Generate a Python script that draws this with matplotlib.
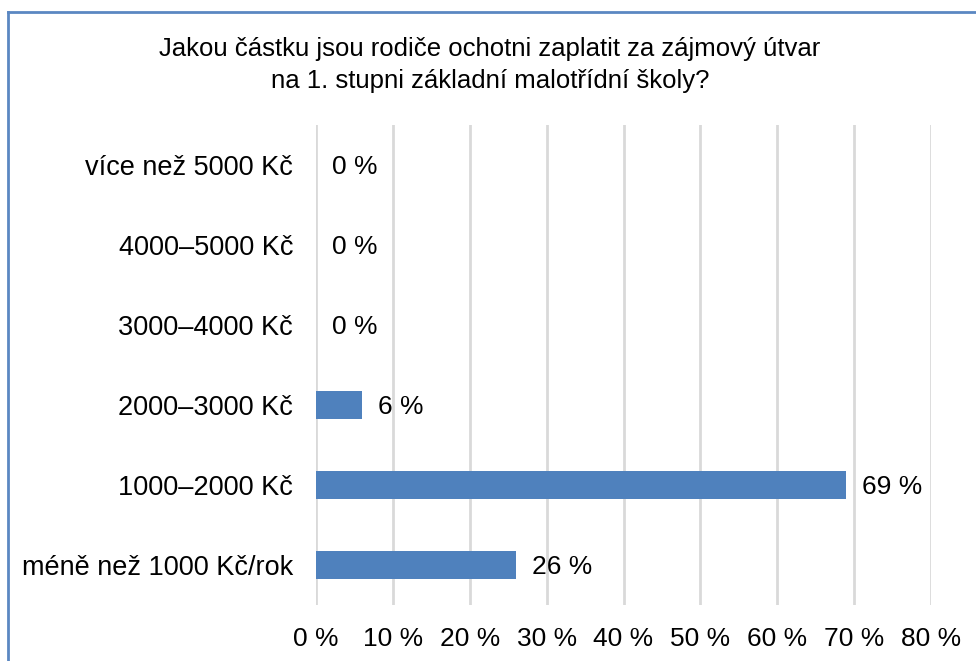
import matplotlib.pyplot as plt
from matplotlib.lines import Line2D

plt.rcParams['font.family'] = ['Liberation Sans', 'DejaVu Sans']

categories = ['méně než 1000 Kč/rok', '1000–2000 Kč', '2000–3000 Kč',
              '3000–4000 Kč', '4000–5000 Kč', 'více než 5000 Kč']
values = [26, 69, 6, 0, 0, 0]
xticks = [0, 10, 20, 30, 40, 50, 60, 70, 80]

W, H = 976, 661
fig = plt.figure(figsize=(W / 100, H / 100), dpi=100)
ax = fig.add_axes([316 / W, 1 - 605 / H, (931 - 316) / W, (605 - 125) / H])

ypos = range(len(categories))
ax.barh(ypos, values, height=0.35, color='#4F81BD', linewidth=0, zorder=3)
for y, v in zip(ypos, values):
    ax.annotate(f'{v} %', (v, y), xytext=(11.5, -1.5), textcoords='offset points',
                va='center', ha='left', fontsize=19)

ax.set_xlim(0, 80)
ax.set_ylim(-0.5, len(categories) - 0.5)
ax.set_xticks(xticks)
ax.set_xticklabels([f'{t} %' for t in xticks], fontsize=19)
ax.set_yticks(list(ypos))
ax.set_yticklabels(categories, fontsize=19.5)
ax.tick_params(axis='both', length=0)
ax.tick_params(axis='y', pad=16.5)
ax.tick_params(axis='x', pad=16)
ax.grid(axis='x', color='#D9D9D9', linewidth=2, zorder=0)
for s in ax.spines.values():
    s.set_visible(False)

fig.text(490 / W, 1 - 65 / H,
         'Jakou částku jsou rodiče ochotni zaplatit za zájmový útvar\n'
         'na 1. stupni základní malotřídní školy?',
         ha='center', va='center', fontsize=18.5, linespacing=1.45)

# outer chart border (only top and left visible in the crop)
fig.add_artist(Line2D([8 / W, 8 / W], [0, 1 - 12 / H], transform=fig.transFigure,
                      color='#5B87C2', linewidth=2))
fig.add_artist(Line2D([8 / W, 1], [1 - 12 / H, 1 - 12 / H], transform=fig.transFigure,
                      color='#5B87C2', linewidth=2))

fig.savefig('out.png', dpi=100)
